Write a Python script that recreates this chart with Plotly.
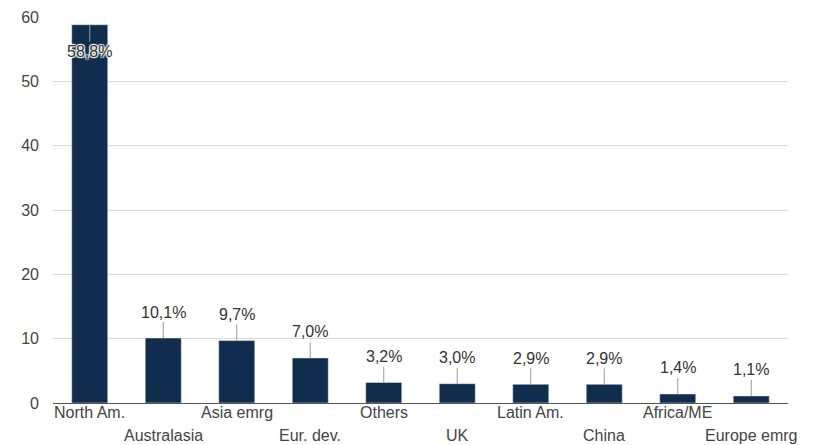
import plotly.graph_objects as go

categories = ["North Am.", "Australasia", "Asia emrg", "Eur. dev.", "Others",
              "UK", "Latin Am.", "China", "Africa/ME", "Europe emrg"]
values = [58.8, 10.1, 9.7, 7.0, 3.2, 3.0, 2.9, 2.9, 1.4, 1.1]
y_ticks = [0, 10, 20, 30, 40, 50, 60]

BAR = "#112d4e"
FONT = "Liberation Sans, Arial, sans-serif"

fig = go.Figure()
fig.add_trace(go.Bar(x=categories, y=values, marker_color=BAR, width=0.49,
                     hoverinfo="skip"))

annotations = []
for i, (c, v) in enumerate(zip(categories, values)):
    txt = f"{v:.1f}%".replace(".", ",")
    ay = 27 if v > 50 else -26
    annotations.append(dict(
        x=c, y=v, xref="x", yref="y", text=txt, showarrow=True,
        arrowhead=0, arrowwidth=1, arrowcolor="#9a9a9a", ax=0, ay=ay,
        font=dict(family=FONT, size=16, color="#333333",
                  shadow="1px 1px 1px #fff, -1px -1px 1px #fff, 1px -1px 1px #fff, -1px 1px 1px #fff")))
    annotations.append(dict(
        x=c, y=0, xref="x", yref="paper", text=c, showarrow=False,
        yanchor="middle", yshift=-9 if i % 2 == 0 else -32,
        font=dict(family=FONT, size=16, color="#444444")))

fig.update_layout(
    width=808, height=437,
    margin=dict(l=45, r=28, t=9, b=42, autoexpand=False),
    paper_bgcolor="white", plot_bgcolor="white",
    showlegend=False, bargap=0.5,
    annotations=annotations,
    xaxis=dict(showticklabels=False, showgrid=False, ticks="",
               showline=True, linecolor="#555555", linewidth=1,
               automargin=False,
               range=[-0.5, len(categories) - 0.5]),
    yaxis=dict(range=[0, 60], tickvals=y_ticks, showgrid=True,
               gridcolor="#d9d9d9", gridwidth=1, zeroline=False,
               automargin=False,
               ticks="", ticklabelstandoff=13,
               tickfont=dict(family=FONT, size=16, color="#444444")),
)

fig.write_html("out.html")
